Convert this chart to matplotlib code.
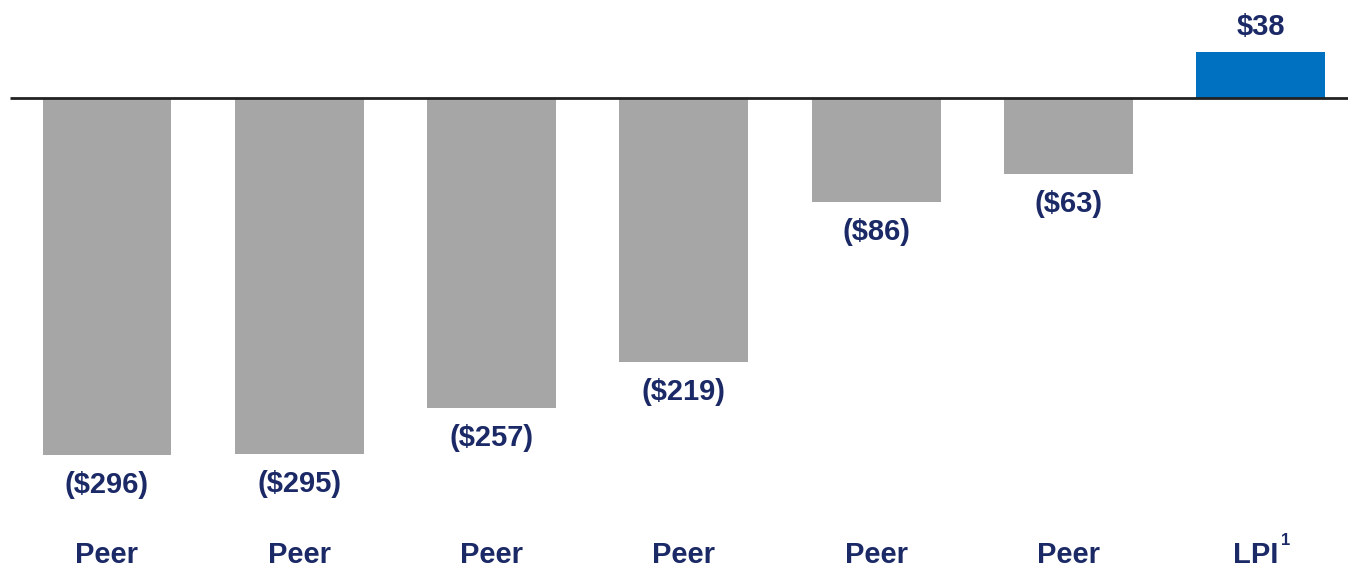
import numpy as np
import matplotlib.pyplot as plt

plt.rcParams['font.family'] = ['Liberation Sans', 'DejaVu Sans']

# values per company
names = ['Peer', 'Peer', 'Peer', 'Peer', 'Peer', 'Peer', 'LPI']
notes = ['', '', '', '', '', '', '1']
values = [-296, -295, -257, -219, -86, -63, 38]
labels = ['($296)', '($295)', '($257)', '($219)', '($86)', '($63)', '$38']

grey = '#a6a6a6'
blue = '#0070c0'
navy = '#1b2a66'

fig = plt.figure(figsize=(13.48, 5.67), dpi=100)
ax = fig.add_axes([0, 0, 1, 1])

x = np.arange(len(values))
colors = [blue if v > 0 else grey for v in values]
ax.bar(x, values, width=0.67, color=colors, zorder=2)

ax.set_xlim(-0.556, 6.453)
ax.set_ylim(-388.9, 81.3)
ax.axis('off')

# zero line
ax.plot([-0.504, 6.453], [0, 0], color='#222222', lw=2, zorder=3, solid_capstyle='butt')

for xi, v, lab in zip(x, values, labels):
    off = 25 if v > 0 else -30
    ax.annotate(lab.replace('$', r'\$'), (xi, v), xytext=(0, off), textcoords='offset pixels',
                ha='center', va='center', fontsize=21, fontweight='bold', color=navy)

tr = ax.get_xaxis_transform()
for xi, n, note in zip(x, names, notes):
    if note:
        ax.annotate(n, (xi, 0.022), xycoords=tr, xytext=(-5, 0), textcoords='offset pixels',
                    ha='center', va='center', fontsize=21, fontweight='bold', color=navy)
        ax.annotate(note, (xi, 0.022), xycoords=tr, xytext=(20, 7), textcoords='offset pixels',
                    ha='left', va='bottom', fontsize=12, fontweight='bold', color=navy)
    else:
        ax.text(xi, 0.022, n, transform=tr, ha='center', va='center',
                fontsize=21, fontweight='bold', color=navy)

fig.savefig('out.png', dpi=100)
